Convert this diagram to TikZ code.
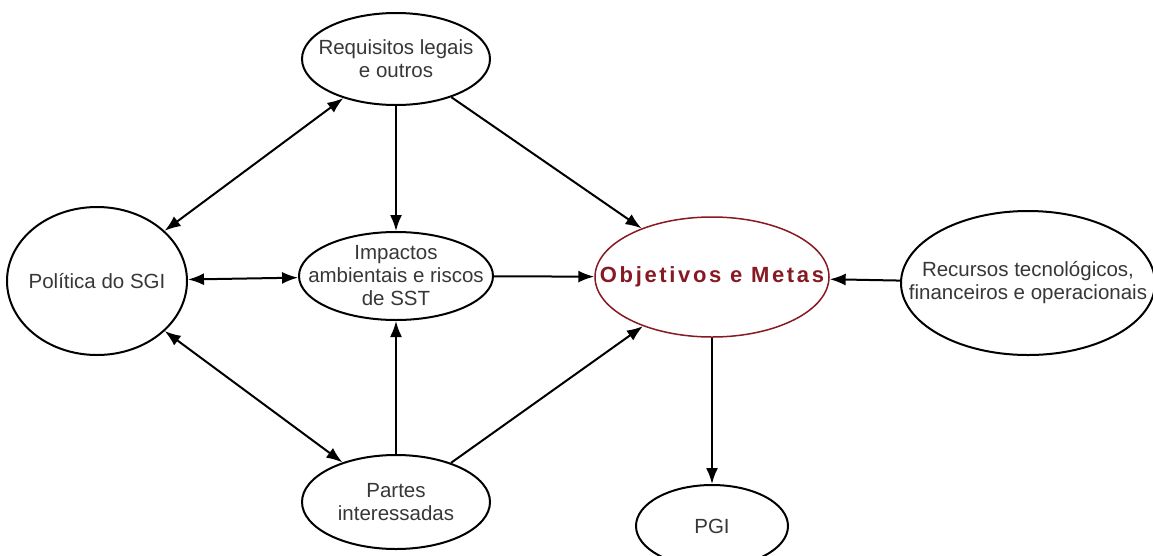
\documentclass[tikz,border=0pt]{standalone}
\usepackage{fontspec}
\setmainfont{Liberation Sans}
\usetikzlibrary{shapes.geometric, arrows.meta}
\definecolor{metared}{RGB}{135,25,35}
\definecolor{txtgray}{RGB}{55,55,55}

\begin{document}
\begin{tikzpicture}[x=1pt, y=-1pt,
    bubble/.style={draw, ellipse, line width=2pt, inner sep=0pt},
    lbl/.style={align=center, text=txtgray, font=\fontsize{20.5}{23}\selectfont},
    link/.style={-{Latex[length=16pt,width=12pt]}, line width=2pt},
    twoway/.style={{Latex[length=16pt,width=12pt]}-{Latex[length=16pt,width=12pt]}, line width=2pt}]
    \useasboundingbox (0,0) rectangle (1153,555);
    % ellipses
    \node[bubble, minimum width=188pt, minimum height=92pt,
          label={[lbl]center:Requisitos legais\\e outros}] (req) at (396,59) {};
    \node[bubble, minimum width=180pt, minimum height=148pt,
          label={[lbl]center:Política do SGI}] (pol) at (97,281) {};
    \node[bubble, minimum width=194pt, minimum height=88pt,
          label={[lbl]center:Impactos\\ambientais e riscos\\de SST}] (imp) at (396,276) {};
    \node[bubble, draw=metared, line width=1.5pt, minimum width=234pt, minimum height=120pt,
          label={[lbl, text=metared, font=\fontsize{22}{23}\selectfont\bfseries\addfontfeature{LetterSpace=12}]center:Objetivos e Metas}] (obj) at (712,277) {};
    \node[bubble, minimum width=254pt, minimum height=144pt,
          label={[lbl]center:Recursos tecnológicos,\\financeiros e operacionais}] (rec) at (1028,283) {};
    \node[bubble, minimum width=188pt, minimum height=94pt,
          label={[lbl]center:Partes\\interessadas}] (par) at (396,502) {};
    \node[bubble, minimum width=152pt, minimum height=82pt,
          label={[lbl]center:PGI}] (pgi) at (712,526) {};
    % connectors
    \draw[twoway] (req) -- (pol);
    \draw[link] (req) -- (imp);
    \draw[link] (req) -- (obj);
    \draw[twoway] (pol) -- (imp);
    \draw[link] (imp) -- (obj);
    \draw[link] (rec) -- (obj);
    \draw[twoway] (pol) -- (par);
    \draw[link] (par) -- (imp);
    \draw[link] (par) -- (obj);
    \draw[link] (obj) -- (pgi);
\end{tikzpicture}
\end{document}
